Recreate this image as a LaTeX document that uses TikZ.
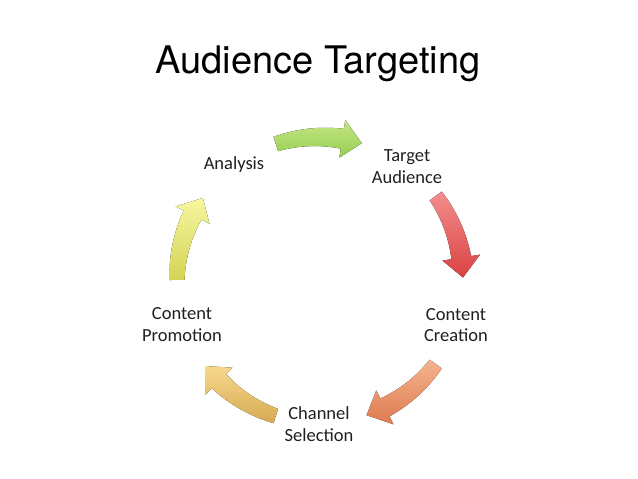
\documentclass[tikz,border=0pt]{standalone}
\usepackage{fontspec}
\setmainfont{Carlito}
\newfontfamily\titlefont{TeX Gyre Heros}

\definecolor{greentop}{RGB}{198,230,132}
\definecolor{greenbot}{RGB}{150,205,82}
\definecolor{redtop}{RGB}{243,142,142}
\definecolor{redbot}{RGB}{218,66,66}
\definecolor{orangetop}{RGB}{245,180,142}
\definecolor{orangebot}{RGB}{222,122,80}
\definecolor{tantop}{RGB}{248,216,142}
\definecolor{tanbot}{RGB}{214,170,82}
\definecolor{yellowtop}{RGB}{246,246,158}
\definecolor{yellowbot}{RGB}{212,212,86}

\tikzset{
    titletext/.style={font=\titlefont\fontsize{38}{44}\selectfont, inner sep=0pt},
    steptext/.style={font=\fontsize{18.5}{21.5}\selectfont, align=center,
        inner sep=0pt, text=black!88}
}

% curved block arrow round the hub: #1 middle angle, #2 top colour, #3 bottom colour
\newcommand{\cyclearrow}[3]{%
    \pgfmathsetmacro{\ta}{#1+18}%
    \pgfmathsetmacro{\tb}{#1-9}%
    \pgfmathsetmacro{\tt}{#1-17}%
    \fill[top color=#2, bottom color=#3, shift={(hub)}]
        plot[domain=0:1, samples=25] ({\ta+(\tb-\ta)*\x}:{(143+7.5+2.5*\x)*1pt})
        -- (\tb:162pt) -- (\tt:143pt) -- (\tb:124pt)
        -- plot[domain=0:1, samples=25] ({\tb+(\ta-\tb)*\x}:{(143-10+2.5*\x)*1pt})
        -- cycle;
}

\begin{document}
\begin{tikzpicture}[x=1pt,y=1pt]
    \useasboundingbox (0,0) rectangle (638,-479);
    \coordinate (hub) at (320,-280);

    % title
    \node[titletext, anchor=base] (title) at (318,-73) {Audience Targeting};

    % arrows of the cycle
    \cyclearrow{90}{greentop}{greenbot}
    \cyclearrow{18}{redtop}{redbot}
    \cyclearrow{-54}{orangetop}{orangebot}
    \cyclearrow{-126}{tantop}{tanbot}
    \cyclearrow{-198}{yellowtop}{yellowbot}

    % steps (base = baseline of the last line)
    \node[steptext, anchor=base] (analysis) at (234,-169) {Analysis};
    \node[steptext, anchor=base] (target) at (407,-183) {Target\\Audience};
    \node[steptext, anchor=base] (creation) at (456,-341.5) {Content\\Creation};
    \node[steptext, anchor=base] (channel) at (319,-441) {Channel\\Selection};
    \node[steptext, anchor=base] (promotion) at (182,-341) {Content\\Promotion};

\end{tikzpicture}
\end{document}
